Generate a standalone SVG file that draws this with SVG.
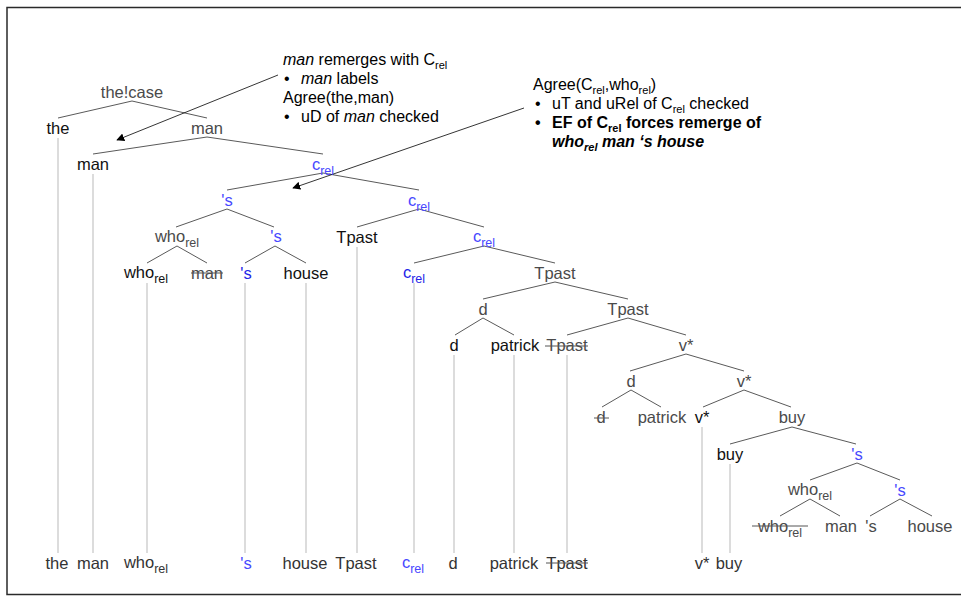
<svg xmlns="http://www.w3.org/2000/svg" width="961" height="596" viewBox="0 0 961 596">
<defs>
<marker id="ah" viewBox="0 0 10 10" refX="9" refY="5" markerWidth="8" markerHeight="8" markerUnits="userSpaceOnUse" orient="auto">
<path d="M0,0 L10,5 L0,10 z" fill="#000"/>
</marker>
<style>
text{font-family:"Liberation Sans",Arial,Helvetica,sans-serif;}
.t{font-size:16.5px;text-anchor:middle;}
.k{fill:#111;}
.g{fill:#4a4a4a;}
.b{fill:#4848ff;}
.bd{fill:#2424e8;}
.bt{fill:#333;}
.sub{font-size:12.5px;}
.e{stroke:#5a5a5a;stroke-width:1;fill:none;}
.v{stroke:#dcdcdc;stroke-width:2;}
.s{stroke:#555;stroke-width:1;}
.a{font-size:16px;fill:#000;}
.as{font-size:11px;}
.arr{stroke:#000;stroke-width:0.8;fill:none;marker-end:url(#ah);}
</style>
</defs>
<rect x="7" y="7.5" width="980" height="587" fill="#fff" stroke="#2a2a2a" stroke-width="1.5"/>

<g id="connectors">
<!-- projection lines -->
<line class="v" x1="58" y1="138" x2="58" y2="553"/>
<line class="v" x1="93" y1="174" x2="93" y2="553"/>
<line class="v" x1="147" y1="283" x2="147" y2="553"/>
<line class="v" x1="245" y1="283" x2="245" y2="553"/>
<line class="v" x1="306" y1="283" x2="306" y2="553"/>
<line class="v" x1="357" y1="247" x2="357" y2="553"/>
<line class="v" x1="414" y1="283" x2="414" y2="553"/>
<line class="v" x1="454" y1="355" x2="454" y2="553"/>
<line class="v" x1="514" y1="355" x2="514" y2="553"/>
<line class="v" x1="567" y1="355" x2="567" y2="553"/>
<line class="v" x1="702" y1="427" x2="702" y2="553"/>
<line class="v" x1="730" y1="464" x2="730" y2="553"/>
<!-- tree edges -->
<path class="e" d="M58,118 L132,101 L207,118"/>
<path class="e" d="M93,154 L207,137 L323,154"/>
<path class="e" d="M227,190 L323,173 L419,190"/>
<path class="e" d="M176,227 L227,209 L274,227"/>
<path class="e" d="M357,227 L419,209 L484,227"/>
<path class="e" d="M147,263 L177,246 L207,263"/>
<path class="e" d="M245,263 L275,246 L306,263"/>
<path class="e" d="M414,263 L484,246 L555,263"/>
<path class="e" d="M483,299 L555,282 L628,299"/>
<path class="e" d="M455,335 L483,318 L514,335"/>
<path class="e" d="M567,335 L628,318 L686,335"/>
<path class="e" d="M630,371 L686,354 L744,371"/>
<path class="e" d="M602,407 L631,390 L661,407"/>
<path class="e" d="M703,407 L744,390 L791,407"/>
<path class="e" d="M730,444 L792,427 L856,444"/>
<path class="e" d="M810,480 L857,463 L900,480"/>
<path class="e" d="M780,516 L810,499 L840,516"/>
<path class="e" d="M870,516 L900,499 L932,516"/>
<!-- annotation arrows -->
<line class="arr" x1="278" y1="75" x2="117" y2="140"/>
<line class="arr" x1="524" y1="108" x2="293" y2="188"/>
</g>

<g id="ann1">
<text class="a" x="283" y="65"><tspan font-style="italic">man</tspan> remerges with C<tspan class="as" dy="4">rel</tspan></text>
<text class="a" x="284" y="84">•</text>
<text class="a" x="301" y="84"><tspan font-style="italic">man</tspan> labels</text>
<text class="a" x="283" y="103">Agree(the,man)</text>
<text class="a" x="284" y="122">•</text>
<text class="a" x="301" y="122">uD of <tspan font-style="italic">man</tspan> checked</text>
</g>

<g id="ann2">
<text class="a" x="533" y="90">Agree(C<tspan class="as" dy="4">rel</tspan><tspan dy="-4">,who</tspan><tspan class="as" dy="4">rel</tspan><tspan dy="-4">)</tspan></text>
<text class="a" x="535" y="109">•</text>
<text class="a" x="552" y="109">uT and uRel of C<tspan class="as" dy="4">rel</tspan><tspan dy="-4"> checked</tspan></text>
<text class="a" x="535" y="128" font-weight="bold">•</text>
<text class="a" x="552" y="128" font-weight="bold">EF of C<tspan class="as" dy="4">rel</tspan><tspan dy="-4"> forces remerge of</tspan></text>
<text class="a" x="552" y="147" font-weight="bold" font-style="italic">who<tspan class="as" dy="4">rel</tspan><tspan dy="-4"> man ‘s house</tspan></text>
</g>

<!-- tree nodes -->
<g id="n_thecase"><text class="t g" x="132" y="98">the!case</text></g>
<g id="n_the1"><text class="t k" x="58" y="134">the</text></g>
<g id="n_man1"><text class="t g" x="207" y="134">man</text></g>
<g id="n_man2"><text class="t k" x="93" y="170">man</text></g>
<g id="n_crel2"><text class="t b" x="323" y="170">c<tspan class="sub" dy="5">rel</tspan></text></g>
<g id="n_s3"><text class="t b" x="227" y="206">'s</text></g>
<g id="n_crel3"><text class="t b" x="419" y="206">c<tspan class="sub" dy="5">rel</tspan></text></g>
<g id="n_who4"><text class="t g" x="177" y="242">who<tspan class="sub" dy="5">rel</tspan></text></g>
<g id="n_s4"><text class="t b" x="276" y="242">'s</text></g>
<g id="n_tpast4"><text class="t k" x="357" y="243">Tpast</text></g>
<g id="n_crel4"><text class="t b" x="484" y="242">c<tspan class="sub" dy="5">rel</tspan></text></g>
<g id="n_who5"><text class="t k" x="146" y="278">who<tspan class="sub" dy="5">rel</tspan></text></g>
<g id="n_man5"><text class="t g" x="207" y="279">man</text><line class="s" x1="191" y1="273" x2="223" y2="273"/></g>
<g id="n_s5"><text class="t bd" x="246" y="279">'s</text></g>
<g id="n_house5"><text class="t k" x="306" y="279">house</text></g>
<g id="n_crel5"><text class="t bd" x="414" y="278">c<tspan class="sub" dy="5">rel</tspan></text></g>
<g id="n_tpast5"><text class="t g" x="555" y="279">Tpast</text></g>
<g id="n_d6"><text class="t g" x="483" y="315">d</text></g>
<g id="n_tpast6"><text class="t g" x="628" y="315">Tpast</text></g>
<g id="n_d7"><text class="t k" x="454" y="351">d</text></g>
<g id="n_patrick7"><text class="t k" x="515" y="351">patrick</text></g>
<g id="n_tpast7"><text class="t g" x="567" y="351">Tpast</text><line class="s" x1="545" y1="346" x2="588" y2="346"/></g>
<g id="n_v7"><text class="t g" x="686" y="351">v*</text></g>
<g id="n_d8"><text class="t g" x="631" y="387">d</text></g>
<g id="n_v8"><text class="t g" x="744" y="387">v*</text></g>
<g id="n_d9"><text class="t g" x="601" y="423">d</text><line class="s" x1="594" y1="418" x2="609" y2="418"/></g>
<g id="n_patrick9"><text class="t g" x="662" y="423">patrick</text></g>
<g id="n_v9"><text class="t k" x="702" y="423">v*</text></g>
<g id="n_buy9"><text class="t g" x="792" y="423">buy</text></g>
<g id="n_buy10"><text class="t k" x="730" y="460">buy</text></g>
<g id="n_s10"><text class="t b" x="857" y="460">'s</text></g>
<g id="n_who11"><text class="t g" x="810" y="495">who<tspan class="sub" dy="5">rel</tspan></text></g>
<g id="n_s11"><text class="t b" x="900" y="496">'s</text></g>
<g id="n_who12"><text class="t g" x="780" y="532">who<tspan class="sub" dy="5">rel</tspan></text><line class="s" x1="752" y1="526" x2="808" y2="526"/></g>
<g id="n_man12"><text class="t g" x="841" y="532">man</text></g>
<g id="n_s12"><text class="t g" x="871" y="532">'s</text></g>
<g id="n_house12"><text class="t g" x="930" y="532">house</text></g>

<!-- bottom row -->
<g id="n_bot_the"><text class="t bt" x="57" y="569">the</text></g>
<g id="n_bot_man"><text class="t bt" x="93" y="569">man</text></g>
<g id="n_bot_who"><text class="t bt" x="146" y="568">who<tspan class="sub" dy="5">rel</tspan></text></g>
<g id="n_bot_s"><text class="t b" x="246" y="569">'s</text></g>
<g id="n_bot_house"><text class="t bt" x="305" y="569">house</text></g>
<g id="n_bot_tpast"><text class="t bt" x="356" y="569">Tpast</text></g>
<g id="n_bot_crel"><text class="t b" x="413" y="568">c<tspan class="sub" dy="5">rel</tspan></text></g>
<g id="n_bot_d"><text class="t bt" x="453" y="569">d</text></g>
<g id="n_bot_patrick"><text class="t bt" x="514" y="569">patrick</text></g>
<g id="n_bot_tpast2"><text class="t bt" x="567" y="569">Tpast</text><line class="s" x1="546" y1="563" x2="588" y2="563"/></g>
<g id="n_bot_v"><text class="t bt" x="702" y="569">v*</text></g>
<g id="n_bot_buy"><text class="t bt" x="729" y="569">buy</text></g>
</svg>
